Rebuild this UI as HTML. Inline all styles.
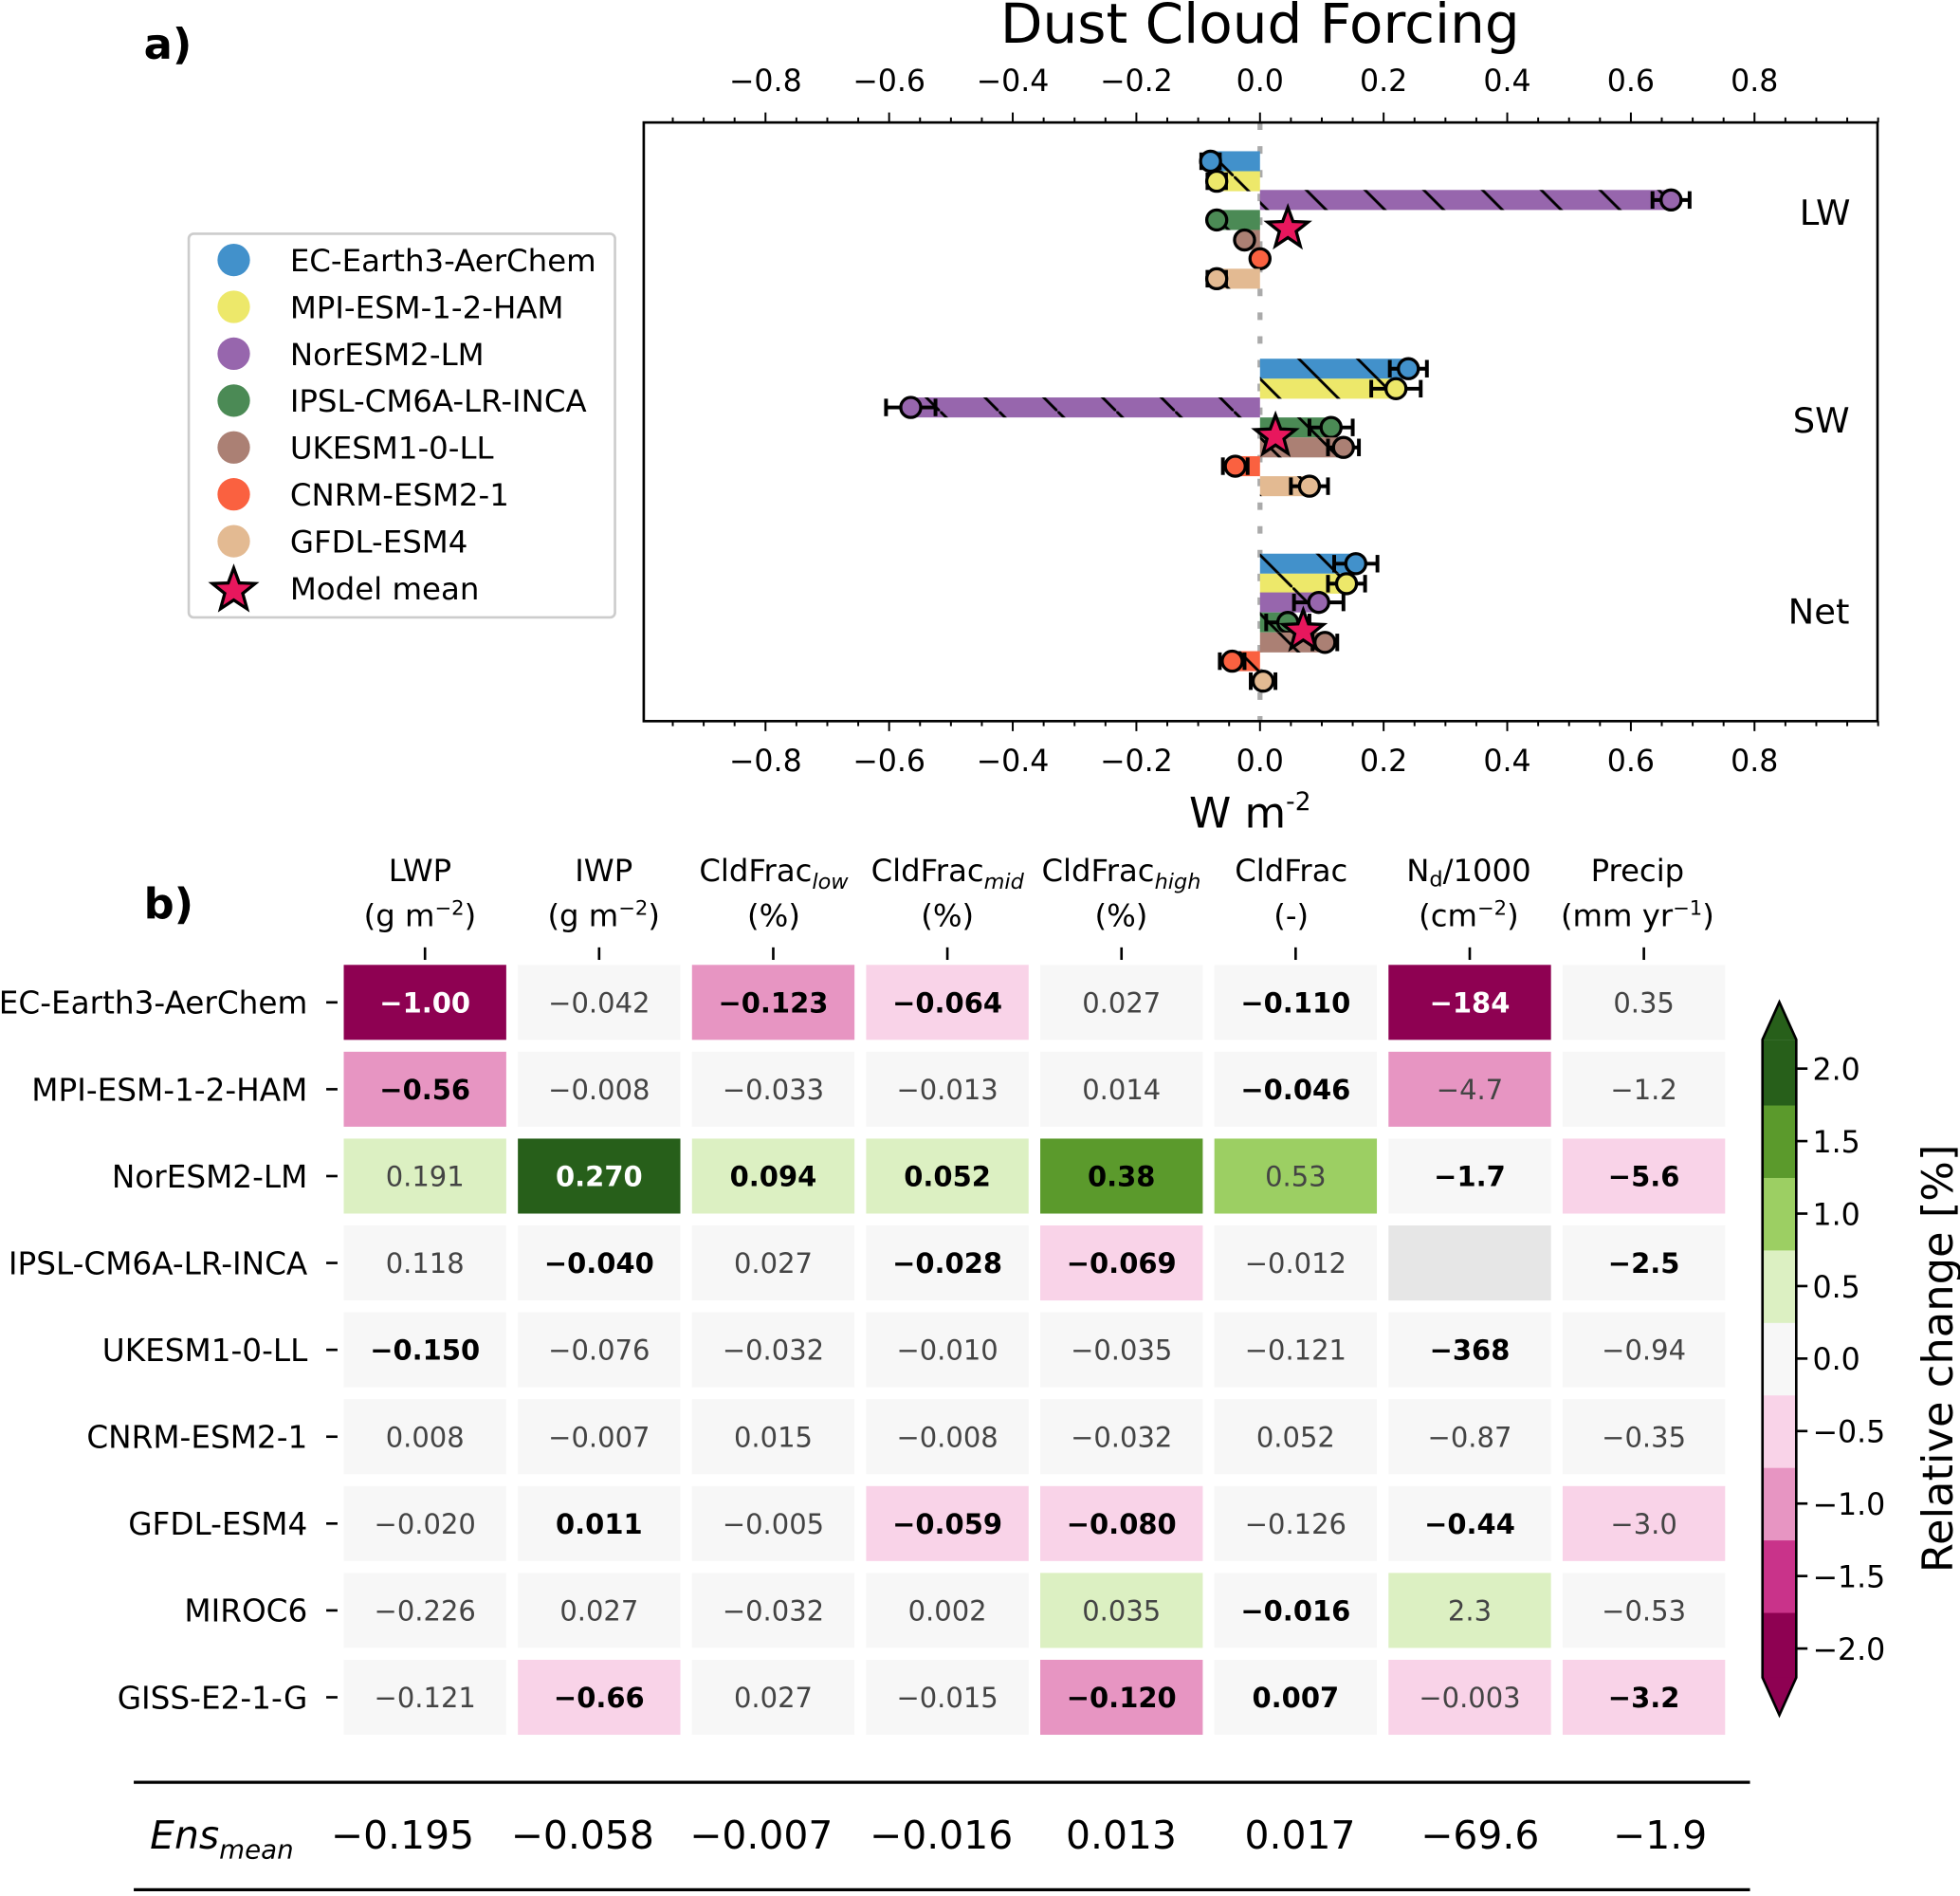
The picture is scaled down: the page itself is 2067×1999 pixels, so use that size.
<!DOCTYPE html>
<html><head><meta charset="utf-8">
<style>
html,body{margin:0;padding:0;background:#fff;}
svg{display:block;font-family:"DejaVu Sans","Liberation Sans",sans-serif;}
</style></head>
<body>
<svg id="fig" width="2067" height="1999" viewBox="0 0 1568 1517" preserveAspectRatio="none" xmlns="http://www.w3.org/2000/svg">
<defs>
<pattern id="hatch" patternUnits="userSpaceOnUse" width="47" height="47">
<line x1="-10" y1="-10" x2="57" y2="57" stroke="#000" stroke-width="2.2"/>
</pattern>
</defs>
<rect width="1568" height="1517" fill="#fff"/>
<text x="115" y="47" font-size="34" font-weight="bold">a)</text>
<text x="1008" y="34" font-size="44" text-anchor="middle">Dust Cloud Forcing</text>
<text x="1000" y="662" font-size="34" text-anchor="middle">W m<tspan font-size="20" dy="-14">-2</tspan></text>
<g id="topPanel"></g>
<g id="legend"></g>
<text x="115" y="735" font-size="34" font-weight="bold">b)</text>
<g id="table"></g>
<g id="cbar"></g>
<text transform="translate(1562,1087) rotate(-90)" font-size="34" text-anchor="middle">Relative change [%]</text>
<g id="ens"></g>
</svg>
<script>
// ---- Panel a data ----
const models = ["EC-Earth3-AerChem","MPI-ESM-1-2-HAM","NorESM2-LM","IPSL-CM6A-LR-INCA","UKESM1-0-LL","CNRM-ESM2-1","GFDL-ESM4"];
const modelColors = ["#4291cb","#ede86a","#9766ad","#4b8a55","#ab8074","#fa6140","#e3ba92"];
const forcingGroups = ["LW","SW","Net"];
const lwValues = [-0.08,-0.07,0.665,-0.07,-0.025,0.0,-0.07];
const swValues = [0.24,0.22,-0.565,0.115,0.135,-0.04,0.08];
const netValues = [0.155,0.14,0.095,0.045,0.105,-0.045,0.005];
const lwErr = [0.015,0.015,0.03,0.0,0.0,0.0,0.015];
const swErr = [0.03,0.04,0.04,0.035,0.025,0.02,0.03];
const netErr = [0.035,0.03,0.04,0.035,0.02,0.02,0.02];
const meanValues = [0.045,0.025,0.07];
const xTicks = [-0.8,-0.6,-0.4,-0.2,0.0,0.2,0.4,0.6,0.8];

const NS="http://www.w3.org/2000/svg";
function mk(tag,attrs,parent){const e=document.createElementNS(NS,tag);for(const k in attrs)e.setAttribute(k,attrs[k]);if(parent)parent.appendChild(e);return e;}
function fmt(v){return (v<-1e-9?"\u2212":"")+Math.abs(v).toFixed(1);}

const AX={l:515,r:1502,t:98,b:577};
const xs=v=>1008+v*494.5;
const groupCenter=[176,342,498];
const offs=[-47,-31,-16,0,16,31,47];
const topG=document.getElementById('topPanel');

let zl=mk('line',{x1:xs(0),x2:xs(0),y1:AX.t,y2:AX.b,stroke:'#aaa','stroke-width':4,'stroke-dasharray':'6 13'},topG);



const allVals=[lwValues,swValues,netValues];
const allErr=[lwErr,swErr,netErr];
allVals.forEach((vals,g)=>{
  vals.forEach((v,i)=>{
    const y=groupCenter[g]+offs[i];
    const x0=xs(Math.min(0,v)), w=Math.abs(xs(v)-xs(0));
    const b=mk('rect',{x:x0,y:y-8,width:w,height:16,fill:modelColors[i]},topG);
    
    
    mk('rect',{x:x0,y:y-8,width:w,height:16,fill:'url(#hatch)'},topG);
    const e=allErr[g][i];
    const eg=mk('g',{stroke:'#000','stroke-width':3},topG);
    
    
    mk('line',{x1:xs(v-e),x2:xs(v+e),y1:y,y2:y},eg);
    mk('line',{x1:xs(v-e),x2:xs(v-e),y1:y-7,y2:y+7},eg);
    mk('line',{x1:xs(v+e),x2:xs(v+e),y1:y-7,y2:y+7},eg);
    const c=mk('circle',{cx:xs(v),cy:y,r:8,fill:modelColors[i],stroke:'#000','stroke-width':2.5},topG);
    
    
  });
});
function starPts(cx,cy,R){let p=[];for(let k=0;k<10;k++){const r=k%2?R*0.42:R;const a=-Math.PI/2+k*Math.PI/5;p.push((cx+r*Math.cos(a)).toFixed(1)+','+(cy+r*Math.sin(a)).toFixed(1));}return p.join(' ');}
meanValues.forEach((v,g)=>{
  const s=mk('polygon',{points:starPts(xs(v),groupCenter[g]+7,17),fill:'#e8175d',stroke:'#000','stroke-width':2.5},topG);
  
  
});
const gl=[[1460,180],[1457,346],[1455,499]];
forcingGroups.forEach((n,g)=>{
  const t=mk('text',{x:gl[g][0],y:gl[g][1],'font-size':28,'text-anchor':'middle'},topG);t.textContent=n;
  
  
});
let fr=mk('rect',{x:AX.l,y:AX.t,width:AX.r-AX.l,height:AX.b-AX.t,fill:'none',stroke:'#000','stroke-width':2},topG);


for(let k=-20;k<=20;k++){
  const v=k*0.05;
  const major=xTicks.some(t=>Math.abs(t-v)<1e-6);
  const len=major?8:4;const x=xs(v);
  if(x<AX.l-1||x>AX.r+1)continue;
  mk('line',{x1:x,x2:x,y1:AX.t,y2:AX.t-len,stroke:'#000','stroke-width':1.5},topG);
  mk('line',{x1:x,x2:x,y1:AX.b,y2:AX.b+len,stroke:'#000','stroke-width':1.5},topG);
}
xTicks.forEach(v=>{
  const t1=mk('text',{x:xs(v),y:73,'font-size':24,'text-anchor':'middle'},topG);t1.textContent=fmt(v);
  
  
  const t2=mk('text',{x:xs(v),y:617,'font-size':24,'text-anchor':'middle'},topG);t2.textContent=fmt(v);
  
  
});

// legend
const lg=document.getElementById('legend');
mk('rect',{x:151,y:187,width:341,height:307,rx:4,fill:'#fff',stroke:'#ccc','stroke-width':2},lg);
models.concat(["Model mean"]).forEach((m,i)=>{
  const y=208+i*37.5;
  if(i<7){const c=mk('circle',{cx:187,cy:y,r:13,fill:modelColors[i]},lg);
    
    }
  else{const s=mk('polygon',{points:starPts(187,y+2,18),fill:'#e8175d',stroke:'#000','stroke-width':2.5},lg);
    
    }
  const t=mk('text',{x:232,y:y+9,'font-size':24.6},lg);t.textContent=m;
  
  
});

// ---- Panel b data ----
const rowNames = ["EC-Earth3-AerChem","MPI-ESM-1-2-HAM","NorESM2-LM","IPSL-CM6A-LR-INCA","UKESM1-0-LL","CNRM-ESM2-1","GFDL-ESM4","MIROC6","GISS-E2-1-G"];
const cellText = [
["−1.00","−0.042","−0.123","−0.064","0.027","−0.110","−184","0.35"],
["−0.56","−0.008","−0.033","−0.013","0.014","−0.046","−4.7","−1.2"],
["0.191","0.270","0.094","0.052","0.38","0.53","−1.7","−5.6"],
["0.118","−0.040","0.027","−0.028","−0.069","−0.012","","−2.5"],
["−0.150","−0.076","−0.032","−0.010","−0.035","−0.121","−368","−0.94"],
["0.008","−0.007","0.015","−0.008","−0.032","0.052","−0.87","−0.35"],
["−0.020","0.011","−0.005","−0.059","−0.080","−0.126","−0.44","−3.0"],
["−0.226","0.027","−0.032","0.002","0.035","−0.016","2.3","−0.53"],
["−0.121","−0.66","0.027","−0.015","−0.120","0.007","−0.003","−3.2"]];
const relChange = [
[-2.2,0,-1.0,-0.5,0,0,-2.2,0],
[-1.0,0,0,0,0,0,-1.0,0],
[0.5,2.2,0.5,0.5,1.5,1.0,0,-0.5],
[0,0,0,0,-0.5,0,null,0],
[0,0,0,0,0,0,0,0],
[0,0,0,0,0,0,0,0],
[0,0,0,-0.5,-0.5,0,0,-0.5],
[0,0,0,0,0.5,0,0.5,0],
[0,-0.5,0,0,-1.0,0,-0.5,-0.5]];
const boldCells = [
[1,0,1,1,0,1,1,0],[1,0,0,0,0,1,0,0],[0,1,1,1,1,0,1,1],[0,1,0,1,1,0,0,1],
[1,0,0,0,0,0,1,0],[0,0,0,0,0,0,0,0],[0,1,0,1,1,0,1,0],[0,0,0,0,0,1,0,0],[0,1,0,0,1,1,0,1]];
const ensMean = ["−0.195","−0.058","−0.007","−0.016","0.013","0.017","−69.6","−1.9"];
const cbLevels = [-1.75,-1.25,-0.75,-0.25,0.25,0.75,1.25,1.75];
const cbColors = ["#8e0152","#c9338a","#e795c2","#f9d3e8","#f7f7f7","#dcf0c2","#9ccf63","#5b9a2c","#275f1a"];
const cbTicks = [-2.0,-1.5,-1.0,-0.5,0.0,0.5,1.0,1.5,2.0];
function colorFor(v){if(v===null)return '#e6e6e6';let i=0;while(i<cbLevels.length&&v>cbLevels[i])i++;return cbColors[i];}

const tb=document.getElementById('table');
const colX=i=>340+i*139.3;
const rowY=j=>802+j*69.5;
const heads=[["LWP","(g m<tspan font-size='16' dy='-9'>−2</tspan><tspan dy='9'>)</tspan>"],
["IWP","(g m<tspan font-size='16' dy='-9'>−2</tspan><tspan dy='9'>)</tspan>"],
["CldFrac<tspan font-size='17' font-style='italic' dy='6'>low</tspan>","(%)"],
["CldFrac<tspan font-size='17' font-style='italic' dy='6'>mid</tspan>","(%)"],
["CldFrac<tspan font-size='17' font-style='italic' dy='6'>high</tspan>","(%)"],
["CldFrac","(-)"],
["N<tspan font-size='17' dy='4'>d</tspan><tspan dy='-4'>/1000</tspan>","(cm<tspan font-size='16' dy='-9'>−2</tspan><tspan dy='9'>)</tspan>"],
["Precip","(mm yr<tspan font-size='16' dy='-9'>−1</tspan><tspan dy='9'>)</tspan>"]];
const hx=[336,483,619,758,897,1033,1175,1310];
heads.forEach((h,i)=>{
  const t1=mk('text',{x:hx[i],y:705,'font-size':24.5,'text-anchor':'middle'},tb);t1.innerHTML=h[0];
  
  
  const t2=mk('text',{x:hx[i],y:741,'font-size':24.5,'text-anchor':'middle'},tb);t2.innerHTML=h[1];
  
  
  mk('line',{x1:colX(i),x2:colX(i),y1:758,y2:768,stroke:'#000','stroke-width':2},tb);
});
rowNames.forEach((r,j)=>{
  const t=mk('text',{x:246,y:rowY(j)+9,'font-size':24.8,'text-anchor':'end'},tb);t.textContent=r;
  
  
  mk('line',{x1:261,x2:270,y1:rowY(j),y2:rowY(j),stroke:'#000','stroke-width':2},tb);
  cellText[j].forEach((s,i)=>{
    const v=relChange[j][i];
    const fill=colorFor(v);
    const c=mk('rect',{x:colX(i)-65,y:rowY(j)-30,width:130,height:60,fill:fill},tb);
    
    
    const dark=(fill==='#8e0152'||fill==='#275f1a');
    const b=boldCells[j][i];
    const t=mk('text',{x:colX(i),y:rowY(j)+8,'font-size':22,'text-anchor':'middle','font-weight':b?'bold':'normal',fill:dark?'#fff':(b?'#000':'#444')},tb);
    t.textContent=s;
    
    
  });
});

// colorbar
const cbG=document.getElementById('cbar');
const cby=v=>1087-v*116;
const cbL=1410,cbW=27;
const edges=[-2.2].concat(cbLevels).concat([2.2]);
for(let k=0;k<cbColors.length;k++){
  mk('rect',{x:cbL,y:cby(edges[k+1]),width:cbW,height:cby(edges[k])-cby(edges[k+1])+0.5,fill:cbColors[k]},cbG);
}
mk('polygon',{points:`${cbL},${cby(2.2)} ${cbL+cbW/2},${cby(2.2)-30} ${cbL+cbW},${cby(2.2)}`,fill:cbColors[8]},cbG);
mk('polygon',{points:`${cbL},${cby(-2.2)} ${cbL+cbW/2},${cby(-2.2)+30} ${cbL+cbW},${cby(-2.2)}`,fill:cbColors[0]},cbG);
mk('polygon',{points:`${cbL},${cby(2.2)} ${cbL+cbW/2},${cby(2.2)-30} ${cbL+cbW},${cby(2.2)} ${cbL+cbW},${cby(-2.2)} ${cbL+cbW/2},${cby(-2.2)+30} ${cbL},${cby(-2.2)}`,fill:'none',stroke:'#000','stroke-width':2},cbG);
cbTicks.forEach(v=>{
  mk('line',{x1:cbL+cbW,x2:cbL+cbW+9,y1:cby(v),y2:cby(v),stroke:'#000','stroke-width':2},cbG);
  const t=mk('text',{x:cbL+cbW+13,y:cby(v)+9,'font-size':24},cbG);t.textContent=fmt(v);
  
  
});

// ensemble mean
const en=document.getElementById('ens');
mk('line',{x1:107,x2:1400,y1:1426,y2:1426,stroke:'#000','stroke-width':2.5},en);
mk('line',{x1:107,x2:1400,y1:1512,y2:1512,stroke:'#000','stroke-width':2.5},en);
const el=mk('text',{x:120,y:1479,'font-size':31,'font-style':'italic'},en);
el.innerHTML="Ens<tspan font-size='21' dy='8'>mean</tspan>";


const ex=[322,466,609,753,897,1040,1184,1328];
ensMean.forEach((s,i)=>{
  const t=mk('text',{x:ex[i],y:1479,'font-size':31,'text-anchor':'middle'},en);t.textContent=s;
  
  
});
</script>
</body></html>
